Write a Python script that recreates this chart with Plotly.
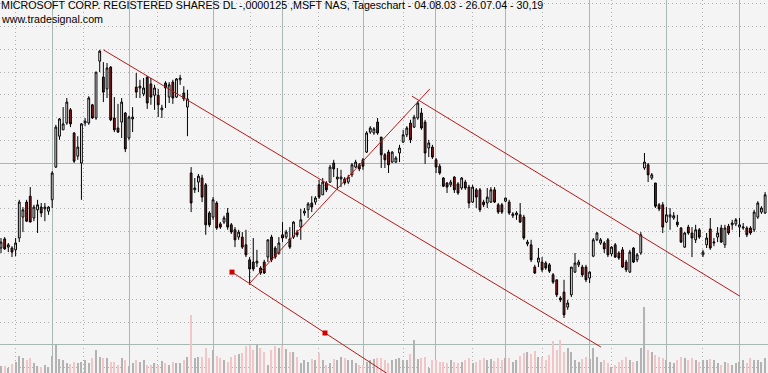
import plotly.graph_objects as go

# ---------------- data ----------------
idx = list(range(1, 211))

opens = [
25.63,25.83,25.65,25.63,25.59,25.85,26.31,26.64,26.77,26.29,
26.47,26.53,26.49,26.44,26.69,27.41,28.09,28.23,28.38,28.67,
28.16,27.65,27.50,28.38,28.38,28.78,28.49,29.74,29.39,29.13,
29.61,28.49,28.27,28.40,28.60,28.05,28.47,29.17,29.15,29.02,
29.39,29.24,28.99,28.99,28.67,29.26,28.95,29.28,28.95,29.33,
29.04,28.73,27.28,26.91,27.08,27.17,27.02,26.40,26.31,26.62,
26.16,26.20,26.40,26.14,26.03,25.87,25.87,25.70,25.37,25.32,
25.30,25.19,25.32,25.43,25.87,25.63,25.52,25.92,25.87,25.83,
25.87,25.98,26.09,26.40,26.47,26.62,26.64,27.02,26.80,27.06,
27.08,27.50,27.15,27.15,27.15,27.08,27.24,27.41,27.46,27.57,
27.74,28.18,28.16,28.40,28.07,27.68,27.74,27.52,27.52,27.72,
27.96,28.12,28.38,28.29,28.49,28.60,28.40,27.83,27.85,27.57,
27.43,27.17,27.06,27.02,27.19,27.04,26.95,27.08,26.97,26.64,
26.91,26.91,26.64,26.62,26.64,26.91,26.58,26.58,26.66,26.64,
26.34,26.36,26.36,26.31,25.72,25.70,25.21,25.32,25.32,25.30,
25.26,25.04,24.93,24.53,24.66,24.33,24.60,25.10,25.26,25.21,
25.21,24.97,25.45,25.81,25.74,25.74,25.81,25.50,25.70,25.52,
25.59,25.32,25.10,25.63,25.37,25.52,27.39,27.46,27.17,27.06,
26.58,26.58,26.20,26.31,26.29,26.20,26.07,25.65,26.09,25.96,
25.81,26.03,25.48,25.70,26.05,25.74,25.87,26.07,25.70,26.11,
26.14,26.16,26.09,26.07,26.07,26.07,26.03,26.31,26.42,26.40]

highs = [
25.85,25.87,25.74,25.67,25.85,26.69,26.53,26.69,26.97,26.58,
26.69,26.62,26.62,26.55,27.32,28.34,28.49,28.73,28.93,28.71,
28.18,28.09,28.38,28.49,28.97,28.80,29.50,29.99,29.72,29.70,
29.63,28.95,28.80,28.93,28.62,28.54,28.73,29.48,29.33,29.37,
29.41,29.37,29.22,29.13,28.78,29.30,29.28,29.33,29.37,29.44,
29.19,29.11,27.41,27.17,27.26,27.24,27.06,26.44,26.75,26.66,
26.20,26.34,26.51,26.18,26.09,26.03,25.98,26.03,25.43,25.85,
25.59,25.23,25.37,25.81,25.92,25.67,25.87,26.20,26.03,26.09,
26.22,26.03,26.49,26.51,26.64,26.77,26.77,27.13,27.17,27.10,
27.46,27.57,27.39,27.35,27.19,27.24,27.50,27.57,27.50,27.61,
28.20,28.31,28.29,28.49,28.07,27.72,27.79,27.76,27.65,27.90,
28.23,28.31,28.45,28.56,28.86,28.71,28.45,28.01,27.90,27.61,
27.48,27.19,27.08,27.13,27.21,27.08,27.19,27.13,27.02,27.02,
26.95,26.95,26.69,26.95,26.97,26.97,26.62,26.62,26.73,26.69,
26.42,26.44,26.62,26.36,25.81,25.81,25.26,25.63,25.43,25.34,
25.30,25.08,24.93,24.57,24.93,24.49,25.21,25.52,25.37,25.26,
25.26,25.12,25.85,25.98,25.85,25.78,25.85,25.67,25.74,25.56,
25.65,25.37,25.59,25.65,25.52,25.98,27.72,27.50,27.28,27.06,
26.62,26.64,26.53,26.51,26.42,26.36,26.09,25.98,26.14,26.09,
26.14,26.07,25.59,25.96,26.29,25.85,26.09,26.14,26.14,26.16,
26.25,26.29,26.29,26.18,26.11,26.11,26.47,26.66,26.55,26.86]

lows = [
25.52,25.59,25.54,25.43,25.45,25.76,25.98,26.20,26.20,26.22,
25.96,26.31,26.22,26.36,26.51,27.39,28.01,28.23,28.34,28.29,
27.50,27.57,26.69,28.31,28.34,28.47,28.45,29.50,28.84,28.93,
28.42,28.18,28.16,28.05,27.74,28.01,28.18,28.93,28.93,28.97,
28.69,28.78,28.67,28.51,28.49,28.71,28.82,28.80,28.93,29.22,
28.86,28.09,26.42,26.84,26.86,26.64,25.92,26.09,26.25,26.03,
26.05,26.16,26.03,25.94,25.65,25.81,25.61,25.43,24.82,25.12,
25.21,25.04,25.06,25.32,25.32,25.39,25.48,25.76,25.83,25.61,
25.83,25.87,25.81,26.34,26.29,26.42,26.58,26.71,26.80,26.86,
27.06,27.19,26.91,26.97,27.02,27.04,27.19,27.39,27.32,27.35,
27.72,28.14,28.12,28.12,27.39,27.39,27.28,27.50,27.50,27.52,
27.94,28.07,27.94,28.27,28.45,28.23,27.48,27.63,27.59,27.28,
27.24,26.97,26.84,26.97,26.84,26.80,26.91,26.91,26.51,26.62,
26.51,26.42,26.53,26.51,26.62,26.62,26.38,26.38,26.64,26.36,
26.29,26.25,26.18,25.81,25.67,25.32,25.06,25.21,25.10,25.15,
25.08,24.84,24.55,24.44,24.09,24.27,24.55,25.08,25.21,24.99,
24.88,24.86,25.43,25.78,25.70,25.52,25.43,25.45,25.41,25.37,
25.19,25.10,25.08,25.30,25.32,25.48,27.35,27.08,27.13,26.51,
26.44,25.96,26.18,26.03,26.25,26.09,25.74,25.63,25.92,25.43,
25.74,25.83,25.43,25.63,25.59,25.67,25.76,25.74,25.63,25.92,
26.03,26.11,25.87,26.03,25.87,25.92,25.98,26.27,26.38,26.38]

closes = [
25.76,25.61,25.70,25.54,25.74,26.64,26.47,26.22,26.20,26.53,
26.58,26.40,26.53,26.53,27.28,28.29,28.47,28.36,28.84,28.36,
27.54,27.85,28.36,28.42,28.93,28.49,29.50,29.96,29.06,29.59,
28.45,28.23,28.18,28.84,27.81,28.51,28.51,29.06,29.19,29.15,
28.82,28.95,29.15,28.78,28.71,29.15,29.22,28.93,29.35,29.37,
28.91,28.91,26.62,26.95,27.21,26.75,26.14,26.14,26.69,26.07,
26.09,26.29,26.09,25.98,25.81,25.98,25.65,25.48,25.17,25.17,
25.34,25.08,25.08,25.81,25.37,25.43,25.74,25.85,25.98,25.65,
26.20,25.92,26.25,26.44,26.60,26.53,26.73,26.75,27.08,26.91,
27.41,27.37,27.19,27.19,27.06,27.19,27.46,27.52,27.37,27.43,
28.16,28.27,28.25,28.16,27.68,27.57,27.46,27.74,27.61,27.83,
28.12,28.27,28.01,28.51,28.82,28.27,27.72,27.94,27.63,27.41,
27.28,26.99,26.97,27.08,26.91,26.84,27.17,26.95,26.62,26.97,
26.75,26.47,26.58,26.75,26.91,26.64,26.42,26.42,26.73,26.40,
26.38,26.40,26.20,25.85,25.76,25.37,25.08,25.41,25.15,25.19,
25.12,24.88,24.60,24.49,24.16,24.42,25.21,25.30,25.32,25.04,
24.93,25.10,25.81,25.96,25.81,25.61,25.48,25.65,25.43,25.41,
25.21,25.15,25.54,25.32,25.48,25.92,27.52,27.24,27.24,26.55,
26.49,26.09,26.36,26.36,26.34,26.14,25.76,25.96,25.96,25.85,
26.03,25.87,25.54,25.85,25.63,25.76,25.96,25.76,26.07,25.96,
26.18,26.25,26.14,26.09,25.92,25.96,26.42,26.62,26.51,26.80]

volume = [
28,28,20,36,44,68,60,52,60,40, 28,24,32,24,68,112,56,52,40,36,
44,40,44,52,40,60,92,64,60,60, 44,44,32,60,52,28,40,52,44,52,
32,32,40,32,48,40,32,44,40,40, 52,64,232,60,64,64,100,60,92,68,
60,52,44,64,72,76,80,108,112,92, 112,100,84,32,92,108,100,108,96,84,
84,64,40,52,44,56,52,80,52,32, 40,56,52,64,60,52,52,40,32,32,
44,52,56,60,60,52,40,52,56,60, 52,52,76,132,56,60,64,20,52,52,
44,44,40,52,44,40,44,52,60,40, 44,52,60,52,56,48,60,52,60,60,
44,52,68,80,84,76,88,64,64,52, 72,128,92,132,84,100,84,52,44,56,
64,56,100,64,44,52,40,24,32,44, 52,64,52,44,48,100,264,92,84,72,
64,60,52,44,40,52,64,60,52,60, 52,44,52,52,56,52,40,32,44,40,
32,40,44,52,40,60,52,52,44,60]

# trend lines (bar index, price)
trend_x = [[29.0, 165.1], [64.18, 110.0], [69.1, 118.3], [113.4, 203.1]]
trend_y = [[29.99, 23.45], [25.10, 22.69], [24.86, 29.13], [28.97, 24.57]]
pivot_x = [64.18, 89.62]
pivot_y = [25.10, 23.76]

# grid positions (bar index)
month_pos = [14.95, 36.01, 58.99, 78.13, 100.02, 119.71, 138.86, 161.83, 183.16, 202.86]
mid_pos = [4.83, 23.43, 43.67, 69.11, 87.71, 110.96, 129.83, 148.98, 167.85, 192.74]
price_major = [23.5, 27.5]
price_minor = [23.0 + 0.5 * k for k in range(17)]

title_text = "MICROSOFT CORP. REGISTERED SHARES DL -,0000125 ,MSFT NAS, Tageschart - 04.08.03 - 26.07.04 - 30,19"
sub_text = "www.tradesignal.com"

# ---------------- figure ----------------
vol_colors = ['#b3b3b3' if c >= o else '#f2c6c6' for o, c in zip(opens, closes)]

fig = go.Figure()
fig.add_trace(go.Bar(x=idx, y=volume, width=0.32, yaxis='y',
                     marker=dict(color=vol_colors, line=dict(width=0)),
                     hoverinfo='skip'))
fig.add_trace(go.Candlestick(
    x=idx, open=opens, high=highs, low=lows, close=closes, yaxis='y2',
    increasing=dict(fillcolor='#ffffff', line=dict(color='#000000', width=1)),
    decreasing=dict(fillcolor='#8e1b1b', line=dict(color='#000000', width=1)),
    whiskerwidth=0, hoverinfo='skip'))
for tx, ty in zip(trend_x, trend_y):
    fig.add_trace(go.Scatter(x=tx, y=ty, mode='lines', yaxis='y2',
                             line=dict(color='#b51a1a', width=1), hoverinfo='skip'))
fig.add_trace(go.Scatter(x=pivot_x, y=pivot_y, mode='markers', yaxis='y2',
                         marker=dict(symbol='square', size=5, color='#d40000'),
                         hoverinfo='skip'))

solid_grid = '#aab8b3'
dot_grid = '#b0b0b0'
text_font = dict(family='Liberation Sans, Arial, sans-serif', size=10.7, color='#000000')
fig.update_layout(
    width=768, height=373, margin=dict(l=0, r=0, t=0, b=0),
    paper_bgcolor='#f4f4f4', plot_bgcolor='#f4f4f4', showlegend=False,
    xaxis=dict(range=[0.727, 210.79], showticklabels=False, ticks='',
               tickmode='array', tickvals=month_pos, showgrid=True,
               gridcolor=solid_grid, gridwidth=1, zeroline=False, showline=False,
               rangeslider=dict(visible=False),
               minor=dict(tickmode='array', tickvals=mid_pos, showgrid=True,
                          gridcolor=dot_grid, griddash='1px,3px', gridwidth=1, ticks='')),
    yaxis=dict(range=[0, 1492], showgrid=False, showticklabels=False, ticks='',
               zeroline=False, showline=False),
    yaxis2=dict(overlaying='y', range=[22.88, 31.086], tickmode='array',
                tickvals=price_major, showgrid=True, gridcolor=solid_grid, gridwidth=1,
                showticklabels=False, ticks='', zeroline=False, showline=False,
                minor=dict(tickmode='array', tickvals=price_minor, showgrid=True,
                           gridcolor=dot_grid, griddash='1px,3px', gridwidth=1, ticks='')),
    annotations=[
        dict(xref='paper', yref='paper', x=0.0, y=1.0 + 2 / 373, xanchor='left', yanchor='top',
             text=title_text, showarrow=False, borderpad=0, font=text_font),
        dict(xref='paper', yref='paper', x=0.0, y=1 - 11.5 / 373, xanchor='left', yanchor='top',
             text=sub_text, showarrow=False, borderpad=0, font=text_font),
    ],
)

fig.write_html("out.html")
